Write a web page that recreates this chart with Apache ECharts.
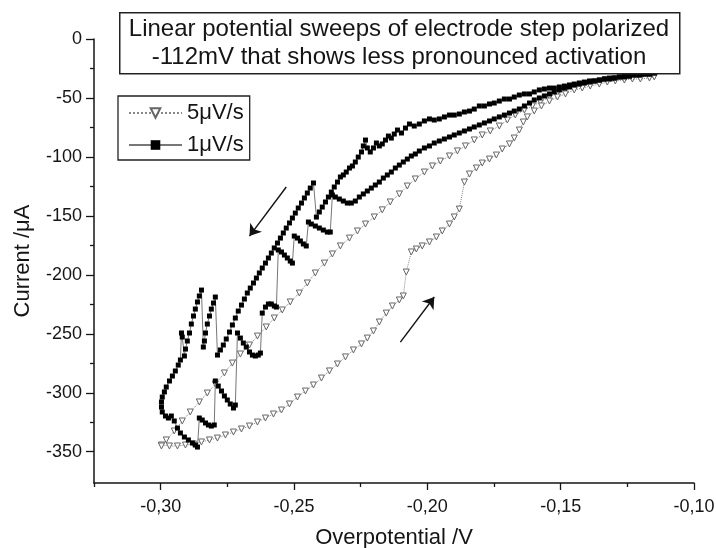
<!DOCTYPE html>
<html>
<head>
<meta charset="utf-8">
<script src="https://cdn.jsdelivr.net/npm/echarts@6/dist/echarts.min.js"></script>
<style>html,body{margin:0;padding:0;background:#fff}#c{width:716px;height:548px}</style>
</head>
<body>
<div id="c"></div>
<script>
// ---- 5 µV/s sweep: cathodic (down) branch, right -> left
const sweep5Down_V = [-0.1149,-0.1167,-0.1201,-0.1231,-0.1261,-0.1295,-0.1325,-0.1355,-0.1389,-0.1419,
-0.1449,-0.1482,-0.1512,-0.1542,-0.1576,-0.1606,-0.1636,-0.1670,-0.1700,-0.1730,
-0.1764,-0.1794,-0.1824,-0.1857,-0.1887,-0.1917,-0.1951,-0.1981,-0.2011,-0.2045,
-0.2075,-0.2105,-0.2139,-0.2169,-0.2199,-0.2232,-0.2262,-0.2292,-0.2326,-0.2356,
-0.2386,-0.2420,-0.2450,-0.2480,-0.2514,-0.2544,-0.2574,-0.2604,-0.2637,-0.2667,
-0.2701,-0.2731,-0.2761,-0.2795,-0.2825,-0.2855,-0.2889,-0.2919,-0.2949,-0.2979,-0.2997];
const sweep5Down_I = [-31.4,-31.4,-32.2,-32.2,-33.1,-33.9,-34.8,-36.5,-37.3,-39.0,
-40.7,-43.2,-45.8,-49.2,-53.4,-56.8,-60.2,-64.4,-68.7,-73.8,
-78.0,-81.4,-85.6,-90.7,-94.9,-99.2,-103.5,-107.7,-112.8,-118.7,
-124.7,-131.4,-138.2,-144.9,-150.9,-156.9,-162.8,-168.8,-175.5,-182.3,
-190.0,-198.4,-206.9,-215.4,-223.0,-229.8,-236.6,-244.2,-251.9,-259.5,
-267.1,-274.8,-283.2,-292.6,-300.2,-307.8,-316.3,-323.9,-332.4,-340.0,-344.3];
// ---- 5 µV/s sweep: return (up) branch, left -> right
const sweep5Up_V = [-0.2997,-0.2967,-0.2937,-0.2907,-0.2877,-0.2847,-0.2817,-0.2787,-0.2757,-0.2727,
-0.2697,-0.2667,-0.2637,-0.2607,-0.2577,-0.2547,-0.2517,-0.2487,-0.2457,-0.2427,
-0.2397,-0.2367,-0.2337,-0.2307,-0.2277,-0.2247,-0.2225,-0.2202,-0.2180,-0.2154,
-0.2131,-0.2105,-0.2090,-0.2079,-0.2060,-0.2041,-0.2019,-0.1992,-0.1966,-0.1944,
-0.1917,-0.1899,-0.1880,-0.1861,-0.1842,-0.1816,-0.1794,-0.1767,-0.1741,-0.1719,
-0.1692,-0.1674,-0.1655,-0.1640,-0.1625,-0.1599,-0.1572,-0.1542,-0.1512,-0.1482,
-0.1449,-0.1419,-0.1389,-0.1355,-0.1325,-0.1295,-0.1261,-0.1231,-0.1201,-0.1167,-0.1149];
const sweep5Up_I = [-345.1,-345.1,-345.1,-344.3,-343.4,-341.7,-340.0,-338.4,-335.8,-333.3,
-330.7,-328.2,-324.8,-321.4,-318.0,-314.6,-309.5,-303.6,-298.5,-293.4,
-287.5,-281.5,-275.6,-269.6,-263.7,-258.6,-253.6,-247.6,-240.0,-232.4,
-226.4,-221.3,-217.9,-197.6,-180.6,-178.1,-175.5,-172.1,-167.9,-162.8,
-156.9,-150.9,-144.2,-121.3,-114.5,-109.4,-105.2,-101.8,-98.4,-93.3,
-89.0,-84.0,-77.2,-70.4,-66.1,-61.1,-56.8,-52.6,-49.2,-46.6,
-43.2,-41.6,-39.9,-38.2,-36.5,-35.6,-34.8,-33.9,-33.9,-33.1,-32.2];

// ---- 1 µV/s sweep: down branch, right -> left
const sweep1Down_V = [-0.1149,-0.1167,-0.1186,-0.1205,-0.1224,-0.1242,-0.1261,-0.1280,-0.1299,-0.1317,
-0.1336,-0.1355,-0.1374,-0.1392,-0.1411,-0.1430,-0.1449,-0.1467,-0.1486,-0.1505,
-0.1524,-0.1542,-0.1561,-0.1580,-0.1599,-0.1617,-0.1636,-0.1655,-0.1674,-0.1692,
-0.1711,-0.1730,-0.1749,-0.1767,-0.1786,-0.1805,-0.1824,-0.1842,-0.1861,-0.1880,
-0.1899,-0.1917,-0.1936,-0.1955,-0.1974,-0.1992,-0.2011,-0.2030,-0.2049,-0.2067,
-0.2082,-0.2097,-0.2112,-0.2124,-0.2135,-0.2146,-0.2157,-0.2169,-0.2180,-0.2191,
-0.2202,-0.2214,-0.2225,-0.2232,-0.2240,-0.2247,-0.2259,-0.2270,-0.2281,-0.2292,
-0.2304,-0.2315,-0.2326,
-0.2337,-0.2349,-0.2360,-0.2371,-0.2382,-0.2394,-0.2405,-0.2416,
-0.2427,-0.2439,-0.2450,-0.2461,-0.2472,-0.2484,-0.2495,-0.2506,-0.2517,-0.2529,
-0.2540,-0.2551,-0.2562,-0.2574,-0.2585,-0.2596,-0.2607,-0.2619,-0.2630,-0.2641,
-0.2652,-0.2664,-0.2675,-0.2686,-0.2697,-0.2709,-0.2720,-0.2731,-0.2742,-0.2754,
-0.2765,-0.2776,-0.2787,
-0.2795,-0.2802,-0.2810,-0.2817,-0.2825,-0.2832,-0.2836,-0.2840,
-0.2847,-0.2855,-0.2862,-0.2870,-0.2877,-0.2885,-0.2892,-0.2900,-0.2907,-0.2911,
-0.2919,-0.2922,-0.2926,-0.2934,-0.2945,-0.2956,-0.2967,-0.2979,-0.2986,-0.2994,
-0.2997,-0.2997,-0.2994,-0.2982,-0.2971,-0.2960,-0.2949,-0.2937,-0.2926,-0.2911,
-0.2896,-0.2881,-0.2870,-0.2862];
const sweep1Down_I = [-28.8,-29.7,-29.7,-30.5,-30.5,-31.4,-31.4,-32.2,-33.1,-33.1,
-33.9,-34.8,-35.6,-35.6,-36.5,-37.3,-38.2,-39.0,-39.9,-40.7,
-41.6,-41.6,-42.4,-43.2,-44.9,-46.6,-46.6,-47.5,-49.2,-50.9,
-50.9,-52.6,-54.3,-55.1,-56.8,-56.8,-59.4,-61.1,-61.9,-63.6,
-64.5,-64.5,-66.1,-67.8,-68.7,-67.8,-69.5,-72.1,-73.8,-72.1,
-75.5,-79.7,-77.2,-80.6,-84.0,-82.3,-85.7,-89.0,-90.7,-88.2,
-92.4,-95.8,-92.4,-85.7,-90.7,-95.8,-100.1,-104.3,-107.7,-109.4,
-112.8,-115.3,-117.0,
-121.3,-125.5,-129.8,-134.0,-138.2,-142.5,-146.7,-151.0,
-122.1,-126.4,-130.6,-134.8,-139.1,-143.3,-147.6,-151.8,-156.0,-160.3,
-164.5,-168.8,-173.0,-177.2,-181.5,-185.7,-190.0,-194.2,-198.4,-202.7,
-206.9,-211.2,-215.4,-220.5,-225.6,-230.7,-236.6,-242.5,-248.5,-254.4,
-259.5,-263.7,-268.0,
-218.8,-223.9,-229.0,-234.9,-241.7,-249.3,-256.1,-261.2,
-212.9,-217.9,-223.0,-229.0,-234.9,-241.7,-249.3,-256.1,-262.9,-268.8,
-252.7,-249.3,-272.2,-276.5,-281.5,-285.8,-290.0,-295.1,-299.3,-303.6,
-307.8,-312.1,-316.3,-319.7,-321.4,-319.7,-323.9,-329.9,-334.1,-337.5,
-340.0,-342.6,-344.3,-346.0];
// ---- 1 µV/s sweep: return branch, left -> right
const sweep1Up_V = [-0.2855,-0.2844,-0.2832,-0.2821,-0.2810,-0.2799,
-0.2795,-0.2784,-0.2772,-0.2761,-0.2750,-0.2739,-0.2727,-0.2720,
-0.2712,-0.2701,-0.2690,-0.2679,-0.2667,-0.2656,-0.2645,-0.2634,-0.2626,
-0.2619,-0.2607,-0.2596,-0.2585,-0.2574,-0.2566,
-0.2559,-0.2547,-0.2536,-0.2525,-0.2514,-0.2506,
-0.2499,-0.2487,-0.2476,-0.2465,-0.2454,
-0.2446,-0.2435,-0.2420,-0.2405,-0.2390,-0.2375,-0.2364,
-0.2356,-0.2345,-0.2330,-0.2315,-0.2300,-0.2285,-0.2270,
-0.2255,-0.2240,-0.2225,-0.2210,-0.2195,-0.2180,-0.2165,-0.2150,-0.2135,-0.2120,
-0.2105,-0.2090,-0.2075,-0.2060,-0.2045,-0.2030,-0.2011,-0.1992,-0.1974,-0.1955,
-0.1936,-0.1917,-0.1899,-0.1880,-0.1861,-0.1842,-0.1824,-0.1805,-0.1786,-0.1767,
-0.1749,-0.1730,-0.1711,-0.1692,-0.1674,-0.1655,-0.1636,-0.1617,-0.1599,-0.1580,
-0.1561,-0.1542,-0.1524,-0.1505,-0.1486,-0.1467,-0.1449,-0.1430,-0.1411,-0.1392,
-0.1374,-0.1355,-0.1336,-0.1317,-0.1299,-0.1280,-0.1261,-0.1242,-0.1224,-0.1205,
-0.1186,-0.1167,-0.1149];
const sweep1Up_I = [-321.4,-323.1,-325.6,-327.3,-328.2,-327.3,
-290.0,-294.3,-298.5,-302.7,-306.1,-309.5,-312.9,-310.4,
-249.3,-253.6,-257.8,-261.2,-265.4,-268.0,-268.8,-268.0,-266.3,
-232.4,-227.3,-224.7,-224.7,-226.4,-227.3,
-178.9,-180.6,-183.2,-185.7,-188.3,-190.0,
-167.1,-168.8,-171.3,-173.8,-175.5,
-155.2,-156.9,-158.6,-160.3,-162.0,-163.7,-163.7,
-132.3,-134.0,-135.7,-137.4,-139.1,-139.1,-137.4,
-134.0,-131.4,-128.9,-126.4,-123.8,-121.3,-117.9,-115.3,-112.8,-109.4,
-106.9,-104.3,-101.8,-99.2,-97.5,-95.0,-92.4,-90.7,-88.2,-86.5,
-84.8,-83.1,-81.4,-79.7,-78.0,-76.3,-74.6,-72.9,-71.2,-69.5,
-67.8,-66.1,-64.5,-62.8,-61.1,-59.4,-56.8,-54.3,-51.7,-50.0,
-48.3,-46.6,-44.9,-43.2,-41.6,-40.7,-39.0,-38.2,-37.3,-36.5,
-35.6,-34.8,-33.9,-33.9,-33.1,-32.2,-32.2,-31.4,-30.5,-30.5,
-29.7,-29.7,-28.8];

// ---- sweep-direction arrows [fromV, fromI, toV, toI]
const arrowDown = [-0.2529, -125.5, -0.2667, -167.1];
const arrowUp = [-0.2101, -257.0, -0.1974, -218.8];

// ---- axes
const xMajor = [-0.30, -0.25, -0.20, -0.15, -0.10];
const xMinor = [-0.325, -0.275, -0.225, -0.175, -0.125];
const yMajor = [0, -50, -100, -150, -200, -250, -300, -350];
const yMinor = [-25, -75, -125, -175, -225, -275, -325];

const titleLines = ['Linear potential sweeps of electrode step polarized', '-112mV that shows less pronounced activation'];
const seriesNames = ['5\u03bcV/s', '1\u03bcV/s'];

function pairs(xs, ys) { return xs.map((x, i) => [x, ys[i]]); }
const data5 = pairs(sweep5Down_V, sweep5Down_I).concat(pairs(sweep5Up_V, sweep5Up_I));
const data1 = pairs(sweep1Down_V, sweep1Down_I).concat(pairs(sweep1Up_V, sweep1Up_I));

const FONT = '"Liberation Sans", Arial, sans-serif';
const INK = '#151515';

const chart = echarts.init(document.getElementById('c'), null, {renderer: 'canvas'});
const grid = {left: 94, right: 22, top: 39, bottom: 65, containLabel: false, outerBoundsMode: 'none'};
const xBase = {type: 'value', min: -0.325, max: -0.10, gridIndex: 0, position: 'bottom', splitLine: {show: false}};
const yBase = {type: 'value', min: -376.5, max: 0, gridIndex: 0, position: 'left', splitLine: {show: false}};

chart.setOption({
  animation: false,
  backgroundColor: '#fff',
  grid: grid,
  xAxis: [
    Object.assign({}, xBase, {
      name: 'Overpotential /V', nameLocation: 'middle', nameGap: 44,
      nameTextStyle: {fontFamily: FONT, fontSize: 22, color: INK},
      axisLine: {show: true, onZero: false, lineStyle: {color: INK, width: 1.5}},
      axisTick: {show: true, length: 7, customValues: xMajor, lineStyle: {color: INK, width: 1.3}},
      axisLabel: {show: true, customValues: xMajor, margin: 15, fontFamily: FONT, fontSize: 18, color: INK,
        formatter: v => v.toFixed(2).replace('.', ',')}
    }),
    Object.assign({}, xBase, {
      axisLine: {show: false, onZero: false},
      axisTick: {show: true, length: 4, customValues: xMinor, lineStyle: {color: INK, width: 1.3}},
      axisLabel: {show: false}
    })
  ],
  yAxis: [
    Object.assign({}, yBase, {
      name: 'Current /\u03bcA', nameLocation: 'middle', nameGap: 60, nameRotate: 90,
      nameTextStyle: {fontFamily: FONT, fontSize: 22, color: INK},
      axisLine: {show: true, onZero: false, lineStyle: {color: INK, width: 1.5}},
      axisTick: {show: true, length: 8, customValues: yMajor, lineStyle: {color: INK, width: 1.3}},
      axisLabel: {show: true, customValues: yMajor, margin: 12, fontFamily: FONT, fontSize: 18, color: INK}
    }),
    Object.assign({}, yBase, {
      axisLine: {show: false, onZero: false},
      axisTick: {show: true, length: 4, customValues: yMinor, lineStyle: {color: INK, width: 1.3}},
      axisLabel: {show: false}
    })
  ],
  legend: {
    data: seriesNames,
    orient: 'vertical', left: 118, top: 96,
    borderColor: '#222', borderWidth: 1.3, borderRadius: 0,
    padding: [6, 6, 4, 10], itemGap: 10, itemWidth: 53, itemHeight: 12,
    textStyle: {fontFamily: FONT, fontSize: 22, color: INK, lineHeight: 20},
    selectedMode: false
  },
  graphic: [
    {type: 'rect', left: 119, top: 12, shape: {width: 560, height: 61}, z: 100,
     style: {fill: '#fff', stroke: '#222', lineWidth: 1.5}},
    {type: 'text', x: 399, y: 29, z: 101,
     style: {text: titleLines[0], font: '24px ' + FONT, fill: INK, align: 'center', verticalAlign: 'middle'}},
    {type: 'text', x: 399, y: 57, z: 101,
     style: {text: titleLines[1], font: '24px ' + FONT, fill: INK, align: 'center', verticalAlign: 'middle'}}
  ],
  series: [
    {
      name: seriesNames[0], type: 'line', xAxisIndex: 0, yAxisIndex: 0, data: data5,
      symbol: 'triangle', symbolRotate: 180, symbolSize: 6, showSymbol: true, z: 2,
      itemStyle: {color: '#fff', borderColor: '#666', borderWidth: 1},
      lineStyle: {color: '#888', width: 1, type: 'dotted'}
    },
    {
      name: seriesNames[1], type: 'line', xAxisIndex: 0, yAxisIndex: 0, data: data1,
      symbol: 'rect', symbolSize: 5, showSymbol: true, z: 3,
      itemStyle: {color: '#000'},
      lineStyle: {color: '#777', width: 1, type: 'solid'}
    },
    {
      name: 'arrows', type: 'lines', coordinateSystem: 'cartesian2d', xAxisIndex: 0, yAxisIndex: 0, z: 4,
      symbol: ['none', 'arrow'], symbolSize: [0, 11],
      lineStyle: {color: '#111', width: 1.4, opacity: 1},
      data: [
        {coords: [[arrowDown[0], arrowDown[1]], [arrowDown[2], arrowDown[3]]]},
        {coords: [[arrowUp[0], arrowUp[1]], [arrowUp[2], arrowUp[3]]]}
      ]
    }
  ]
});
</script>
</body>
</html>
